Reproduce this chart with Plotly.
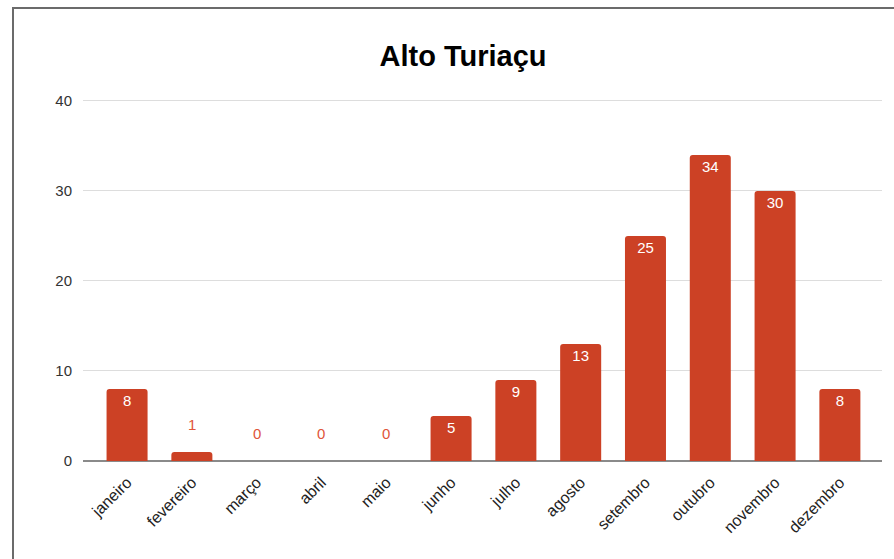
import plotly.graph_objects as go

months = ["janeiro", "fevereiro", "março", "abril", "maio", "junho",
          "julho", "agosto", "setembro", "outubro", "novembro", "dezembro"]
values = [8, 1, 0, 0, 0, 5, 9, 13, 25, 34, 30, 8]
y_ticks = [0, 10, 20, 30, 40]

BAR = "#cc4125"
W, H = 894, 559
ML, MR, MT, MB = 83, 12, 98, 98

inside = [v >= 5 for v in values]
texts = [str(v) if ins else "" for v, ins in zip(values, inside)]

fig = go.Figure()
fig.add_trace(go.Bar(
    x=list(range(len(months))), y=values,
    marker=dict(color=BAR, cornerradius=3, line=dict(width=0)),
    text=texts, textposition="inside", insidetextanchor="end",
    insidetextfont=dict(color="white", size=15, family="Liberation Sans, Arial"),
    textangle=0, hoverinfo="skip",
))

for i, (v, ins) in enumerate(zip(values, inside)):
    if not ins:
        fig.add_annotation(x=i, y=v, text=str(v), showarrow=False,
                           yshift=28, font=dict(color="#e0553a", size=15,
                                                family="Liberation Sans, Arial"))

pw = W - ML - MR
ph = H - MT - MB
def px2x(p): return (p - ML) / pw
def py2y(p): return (H - MB - p) / ph

fig.add_shape(type="line", xref="paper", yref="paper",
              x0=px2x(13), x1=px2x(13), y0=py2y(8), y1=py2y(H + 5),
              line=dict(color="#6b6b6b", width=2))
fig.add_shape(type="line", xref="paper", yref="paper",
              x0=px2x(12), x1=px2x(W + 5), y0=py2y(8), y1=py2y(8),
              line=dict(color="#6b6b6b", width=2))

fig.update_layout(
    width=W, height=H,
    margin=dict(l=ML, r=MR, t=MT, b=MB),
    paper_bgcolor="white", plot_bgcolor="white",
    bargap=0.367,
    showlegend=False,
    title=dict(text="<b>Alto Turiaçu</b>", x=463 / W, xanchor="center",
               y=1 - 56 / H, yanchor="middle",
               font=dict(size=29, color="#000000", family="Liberation Sans, Arial")),
    xaxis=dict(
        tickmode="array", tickvals=list(range(len(months))), ticktext=months,
        tickangle=-45, range=[-0.68, 11.65],
        tickfont=dict(size=16, color="#222222", family="Liberation Sans, Arial"),
        showgrid=False, zeroline=False, showline=False, ticks="",
        ticklabelstandoff=8,
    ),
    yaxis=dict(
        range=[0, 40.33], tickmode="array", tickvals=y_ticks,
        tickfont=dict(size=15, color="#333333", family="Liberation Sans, Arial"),
        showgrid=True, gridcolor="#dddddd", gridwidth=1,
        zeroline=True, zerolinecolor="#8a8a8a", zerolinewidth=2,
        showline=False, ticks="", ticklabelstandoff=10,
    ),
)

fig.write_html("out.html")
